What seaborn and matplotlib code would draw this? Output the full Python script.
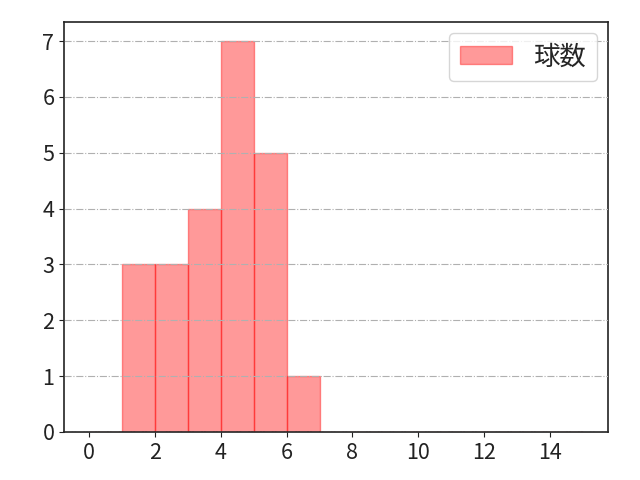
import matplotlib
matplotlib.use('Agg')
import matplotlib.pyplot as plt
import seaborn as sns
import pandas as pd

# pitch counts per appearance
bin_left = [1, 2, 3, 4, 5, 6]
counts = [3, 3, 4, 7, 5, 1]
bin_edges = list(range(0, 16))

values = []
for b, c in zip(bin_left, counts):
    values += [b + 0.5] * c
df = pd.DataFrame({'球数': values})

sns.set_style('ticks')
plt.rcParams['font.family'] = ['Noto Sans CJK JP', 'DejaVu Sans']

fig, ax = plt.subplots(figsize=(6.4, 4.8), dpi=100)
sns.histplot(data=df, x='球数', bins=bin_edges, color='red', alpha=0.4,
             edgecolor=(1, 0, 0, 0.4), linewidth=1, label='球数', ax=ax)

ax.set_xlim(-0.75, 15.75)
ax.set_ylim(0, 7.35)
ax.set_xlabel('')
ax.set_ylabel('')
ax.set_xticks(range(0, 16, 2))
ax.set_yticks(range(0, 8))
ax.tick_params(labelsize=15.5, colors='#222222')
ax.grid(axis='y', linestyle='-.', color='#b0b0b0', linewidth=0.8)
ax.set_axisbelow(False)
for s in ax.spines.values():
    s.set_linewidth(1.2)
    s.set_color('#222222')
ax.legend(loc='upper right', fontsize=19, borderaxespad=0.42)

plt.subplots_adjust(left=0.1, right=0.95, top=0.955, bottom=0.1)
plt.savefig('out.png', dpi=100)
